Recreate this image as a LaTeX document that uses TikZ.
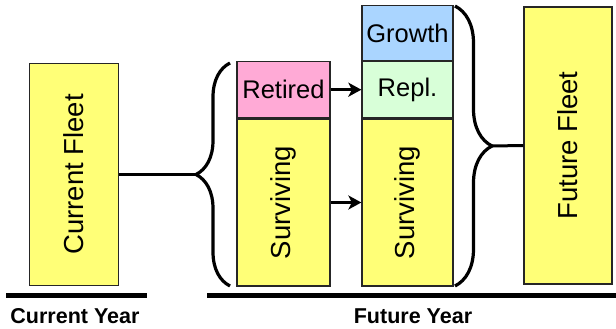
\documentclass[tikz,border=0pt]{standalone}
\usepackage{fontspec}
\setmainfont{Liberation Sans}
\usepackage{graphicx}
\usetikzlibrary{arrows.meta,positioning,decorations.pathreplacing}

\definecolor{fleetyellow}{HTML}{FFFF77}
\definecolor{retpink}{HTML}{FFAAD6}
\definecolor{growblue}{HTML}{AAD5FF}
\definecolor{replgreen}{HTML}{D8FFD8}

\begin{document}
\begin{tikzpicture}[x=1pt, y=-1pt,
    blk/.style={draw=black!85, line width=1.3pt, inner sep=0pt, font=\fontsize{27.5}{29}\selectfont},
    smallblk/.style={blk, font=\fontsize{25.5}{27}\selectfont},
    brc/.style={decorate, line width=3.2pt},
    arr/.style={line width=3pt, -{Stealth[length=13pt, width=14pt, inset=3.5pt]}},
    base/.style={line width=4.5pt},
    yearlbl/.style={font=\fontsize{21.5}{23}\selectfont\bfseries}]
    \useasboundingbox (0,0) rectangle (616,329);

    % current year
    \node[blk, fill=fleetyellow, minimum width=89pt, minimum height=222pt] (cur) at (74,174.5) {\rotatebox{90}{Current Fleet}};

    % split of the current fleet
    \node[blk, fill=fleetyellow, minimum width=93pt, minimum height=167pt] (surv1) at (283.5,202.5) {\rotatebox{90}{Surviving}};
    \node[smallblk, fill=retpink, minimum width=93pt, minimum height=56pt, above=0pt of surv1] (ret) {Retired};

    % future stack
    \node[blk, fill=fleetyellow, minimum width=91pt, minimum height=167pt] (surv2) at (407.5,202.5) {\rotatebox{90}{Surviving}};
    \node[smallblk, fill=replgreen, minimum width=91pt, minimum height=56pt, above=0pt of surv2] (repl) {Repl.};
    \node[smallblk, fill=growblue, minimum width=91pt, minimum height=55pt, above=0pt of repl] (grow) {Growth};

    % future fleet
    \node[blk, fill=fleetyellow, minimum width=88pt, minimum height=277pt] (fut) at (568,145.5) {\rotatebox{90}{Future Fleet}};

    % braces
    \draw[brc, decoration={brace, amplitude=34pt}] (230,286) -- (230,63);
    \coordinate (ltip) at (196,174.5);
    \draw[brc, decoration={brace, amplitude=37pt}] (455,6) -- (455,286);
    \coordinate (rtip) at (492,146);

    % connectors
    \draw[line width=3pt] (cur.east) -- (ltip);
    \draw[line width=3pt] (rtip) -- (fut.west);
    \draw[arr] (ret.east) -- (repl.west);
    \draw[arr] (surv1.east) -- (surv2.west);

    % time axis
    \draw[base] (6,295.5) -- (147,295.5);
    \draw[base] (207,295.5) -- (616,295.5);
    \node[yearlbl] (curyear) at (75,316) {Current Year};
    \node[yearlbl] (futyear) at (413,316) {Future Year};
\end{tikzpicture}
\end{document}
